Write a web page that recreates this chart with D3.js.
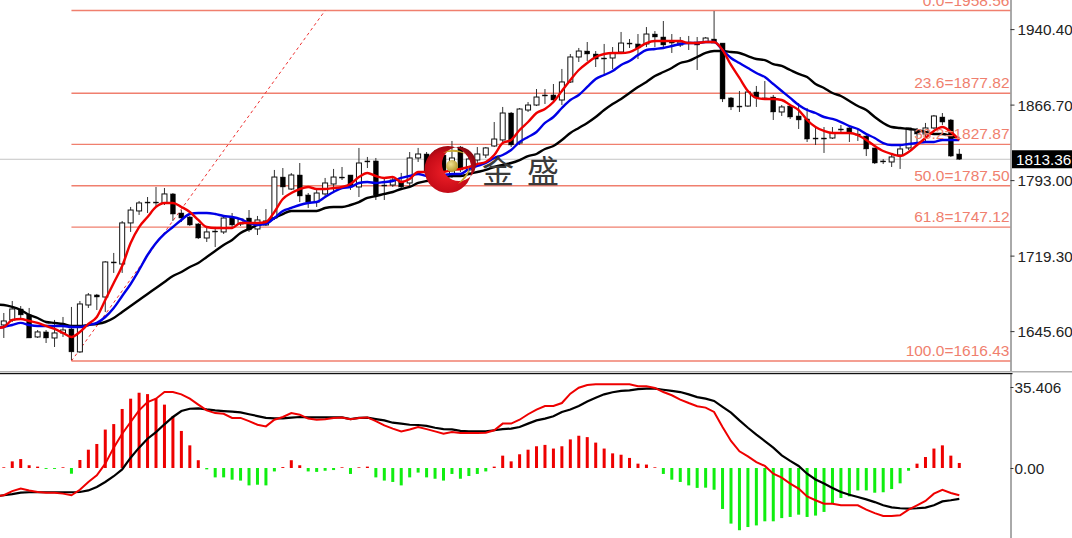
<!DOCTYPE html>
<html><head><meta charset="utf-8">
<style>html,body{margin:0;padding:0;background:#fff;overflow:hidden}svg{display:block}text{font-family:"Liberation Sans",sans-serif}</style>
<script src="https://cdn.jsdelivr.net/npm/d3@7"></script></head><body>
<svg id="c" width="1072" height="538"></svg>
<script>
const open=[1651.6,1656.5,1667.2,1661.4,1639.9,1644.8,1638.9,1643.8,1647.7,1625.3,
1671.1,1680.9,1678.9,1713.1,1711.1,1751.2,1762.9,1771.6,1771.6,1770.7,
1779.5,1760.9,1757,1750.2,1736.5,1743.3,1742.4,1757,1750.2,1756,
1745.3,1749.2,1756,1796,1784.3,1798,1778.5,1771.6,1779.5,1789.2,
1796,1798,1786.3,1811.7,1811.7,1788.2,1788.2,1791.2,1790.2,1814.6,
1818.5,1795.1,1817.5,1798,1825.3,1802.9,1812.6,1817.5,1826.3,1832.2,
1858.5,1829.2,1861.4,1866.3,1876.1,1876.1,1871.2,1888.8,1913.2,1919,
1916.1,1912.2,1912.2,1918,1926.8,1925.9,1925.9,1935.6,1932.7,1927.8,
1924.9,1927.8,1927.8,1927.8,1930.7,1926.8,1873.2,1865.3,1865.3,1879,
1873.2,1874.1,1859.5,1865.3,1855.6,1852.7,1834.1,1834.1,1834.1,1842.9,
1843.9,1838,1836,1824.4,1811.7,1810.7,1817.5,1824.4,1841,1838,
1843.9,1854.6,1851.7,1818.5];
const close=[1655.5,1667.2,1661.4,1638.9,1644.8,1638.9,1643.8,1646.7,1625.3,1672.1,
1680.9,1678.9,1713.1,1712.1,1751.2,1763.8,1770.7,1770.7,1770.7,1779.5,
1759.9,1756,1749.2,1736.5,1742.4,1742.4,1756,1749.2,1755,1744.3,
1754.1,1753.1,1796,1786.3,1798,1777.5,1771.6,1780.4,1790.2,1796,
1795.1,1786.3,1809.7,1810.7,1778.5,1787.3,1793.1,1786.3,1814.6,1818.5,
1800,1817.5,1800.9,1814.6,1802.9,1813.6,1818.5,1824.4,1833.1,1858.5,
1827.3,1862.4,1866.3,1874.1,1875.1,1871.2,1888.8,1913.2,1919,1916.1,
1911.2,1911.2,1917.1,1926.8,1925.9,1922,1935.6,1932.7,1924.9,1926.8,
1927.8,1926.8,1924.9,1931.7,1926.8,1872.2,1864.4,1864.4,1879,1873.2,
1872.2,1859.5,1864.4,1854.6,1851.7,1833.1,1833.1,1833.1,1839,1841.9,
1839,1837,1823.4,1809.7,1810.7,1815.6,1823.4,1843.9,1838,1843.9,
1855.6,1849.7,1816.5,1813.4];
const high=[1663.3,1675,1670.1,1668.2,1646.7,1646.7,1656.5,1659.4,1669.2,1675,
1682.8,1681.9,1714,1721.9,1753.1,1766.8,1772.6,1776.5,1786.3,1785.3,
1780.4,1763.8,1758,1751.2,1746.3,1747.3,1758,1760.9,1756,1763.8,
1758,1764.8,1802.9,1804.8,1799.9,1809.7,1780.4,1783.4,1795.1,1803.9,
1805.8,1798,1824.4,1815.6,1814.6,1795.1,1795.1,1800,1820.4,1824.4,
1820.4,1822.4,1820.4,1831.2,1826.3,1817.5,1825.3,1825.3,1849.7,1864.4,
1859.5,1863.4,1869.2,1881.9,1881.9,1886.8,1901.5,1916.1,1922,1927.8,
1919,1925.9,1922.9,1937.6,1930.7,1935.6,1942.4,1938.5,1948.3,1935.6,
1932.7,1933.7,1932.7,1932.7,1958,1926.8,1874.1,1880,1880,1884.9,
1889.7,1876.1,1866.3,1866.3,1868.3,1863.4,1843.9,1844.8,1844.8,1846.8,
1844.8,1843.9,1837,1824.4,1813.6,1817.5,1827.3,1843.9,1843.9,1848.8,
1856.6,1858.5,1852.7,1823.4];
const low=[1638.9,1654.5,1656.5,1638.9,1638.9,1634,1630.1,1639.9,1617.4,1624.3,
1668.2,1666.2,1664.3,1702.4,1702.4,1742.4,1759,1760.9,1766.8,1768.7,
1753.1,1752.1,1748.2,1735.5,1732.6,1727.7,1740.4,1747.3,1748.2,1742.4,
1739.4,1748.2,1754.1,1778.5,1783.4,1771.6,1765.8,1766.8,1777.5,1781.4,
1793.1,1783.4,1776.5,1804.8,1773.6,1773.6,1786.3,1785.3,1786.3,1810.7,
1798,1791.2,1797,1795.1,1800.9,1800,1807.8,1814.6,1825.3,1829.2,
1825.3,1827.3,1859.5,1865.3,1867.3,1869.2,1866.3,1887.8,1908.3,1909.3,
1903.4,1896.6,1901.5,1917.1,1922,1911.2,1922.9,1922.9,1922.9,1917.1,
1922.9,1920,1900.5,1926.8,1926.8,1869.2,1861.4,1859.5,1864.4,1864.4,
1871.2,1851.7,1855.6,1852.7,1842.9,1830.2,1827.3,1819.5,1833.1,1839,
1830.2,1831.2,1816.5,1808.7,1808.7,1805.8,1803.9,1822.4,1830.2,1829.2,
1842.9,1846.8,1815.6,1812.6];
const maSlow=[1671.1,1669.2,1666.2,1661.4,1658.4,1654.5,1653.6,1652.6,1650.6,1650.6,
1651.6,1652.6,1654.5,1658.4,1664.3,1670.1,1676,1681.9,1687.7,1693.6,
1699.4,1703.3,1708.2,1712.1,1718,1723.8,1729.7,1734.6,1741.4,1745.3,
1749.2,1751.2,1756,1759.9,1762.9,1762.9,1762.9,1762.9,1765.8,1766.8,
1766.8,1768.7,1771.6,1775.6,1777.5,1779.5,1781.4,1784.3,1786.3,1790.2,
1792.1,1793.1,1795.1,1797,1797,1799,1800.9,1802.9,1805.8,1807.8,
1809.7,1812.6,1816.5,1818.5,1823.4,1826.3,1832.2,1839,1843.9,1848.8,
1854.6,1861.4,1867.3,1872.2,1878,1883.9,1888.8,1894.6,1898.5,1902.4,
1907.3,1909.3,1913.2,1917.1,1919,1919,1918,1917.1,1914.1,1911.2,
1910.2,1906.3,1904.4,1900.5,1896.6,1893.6,1886.8,1882.9,1878,1875.1,
1870.2,1865.3,1861.4,1854.6,1848.8,1844.8,1843.9,1842.9,1841.9,1840,
1838,1838,1836,1834.1];
const maFast=[1649.6,1656.5,1657.5,1655.5,1653.6,1650.6,1647.7,1643.8,1639.9,1644.8,
1652.6,1659.4,1676,1692.6,1709.2,1731.6,1747.2,1757,1766.8,1770.7,
1770.7,1766.8,1761.9,1754.1,1747.2,1746.3,1746.3,1746.3,1751.2,1751.2,
1751.2,1752.1,1761.9,1774.6,1780.4,1784.3,1786.3,1784.3,1784.3,1785.3,
1786.3,1789.2,1796,1800,1797,1795.1,1796,1791.2,1794.1,1800.9,
1800.9,1800.9,1800.9,1802.9,1803.9,1805.8,1808.7,1810.7,1817.5,1829.2,
1832.2,1841.9,1849.7,1858.5,1862.4,1869.2,1880,1890.7,1900.5,1907.3,
1913.2,1916.1,1917.1,1917.1,1918,1922,1926.8,1928.8,1928.8,1928.8,
1928.8,1926.8,1926.8,1927.8,1927.8,1920,1905.4,1892.7,1880,1873.2,
1872.2,1872.2,1871.2,1866.3,1861.4,1851.7,1844.8,1841,1839,1839,
1839,1837,1832.2,1826.3,1821.4,1818.5,1816.5,1820.4,1827.3,1834.1,
1841,1844.8,1840,1832.2];
const maMid=[1649.6,1651.6,1653.6,1651.6,1650.6,1650.6,1650.6,1650.6,1649.6,1649.6,
1651.6,1653.6,1659.4,1668.2,1679.9,1691.6,1705.3,1719.9,1731.6,1740.4,
1747.2,1754.1,1759.9,1760.9,1760.9,1759.9,1758,1757,1755,1751.2,
1749.2,1750.2,1756,1762.9,1765.8,1768.7,1770.7,1771.6,1776.5,1781.4,
1785.3,1786.3,1790.2,1791.2,1790.2,1791.2,1792.1,1795.1,1797,1799,
1797,1798,1798,1799,1799,1803.9,1806.8,1809.7,1814.6,1817.5,
1822.4,1830.2,1835.1,1840,1848.8,1854.6,1863.4,1871.2,1876.1,1883.9,
1891.7,1895.6,1899.5,1905.4,1909.3,1915.1,1920,1921,1922,1923.9,
1925.9,1926.8,1926.8,1927.8,1927.8,1920,1912.2,1907.3,1902.4,1897.6,
1893.6,1886.8,1880,1873.2,1866.3,1861.4,1858.5,1854.6,1852.7,1849.7,
1845.8,1842.9,1838,1834.1,1829.2,1827.3,1827.3,1828.3,1829.2,1830.2,
1830.2,1832.2,1832.2,1832.2];
const maBefore=[1671.5,1648.5,1649];
const macdHist=[0.3,2.9,3.9,1.2,0.6,-0.4,-0.4,0.3,-2.5,3.5,
8,10.5,16.8,19.2,25.8,30.3,32.9,32.3,30.3,27.7,
22.6,16.2,9.9,3.4,-0.6,-4.1,-4.1,-5.1,-5.5,-7.6,
-7.3,-7.6,-1.5,0.4,3.4,1.2,-1.5,-1.7,-1.2,-0.9,
0.3,-2.6,0.3,0.6,-4.1,-5.5,-6.1,-7.6,-4.1,-2,
-4.1,-4.7,-5.5,-2.6,-4.7,-3.5,-2.6,-1.5,0.6,5.4,
2.9,6,8,9.5,10.1,8.5,9.5,12.5,14.1,13.5,
11.1,8.5,6.4,5.8,4.4,1.9,1.5,0.3,-2.6,-5.1,
-6.1,-7.6,-8.7,-8.6,-9.5,-17.9,-24.3,-27.2,-25.8,-25.1,
-23.3,-23.3,-21.9,-21.4,-20.4,-21.4,-20.8,-19.2,-15.7,-13.1,
-12.4,-9.8,-9.8,-10.8,-10.6,-9.2,-6.7,-1.2,1.9,4.8,
8.5,9.9,5.4,2.2];
const macdSignal=[-11.9,-11.4,-10.8,-10.6,-10.6,-10.6,-10.6,-10.6,-10.6,-10.5,
-9.8,-8.3,-6.1,-3.6,-0.6,4.5,8.9,12.8,15.7,19.1,
22.3,24.9,25.9,26.1,25.6,25.2,24.9,24.6,24.3,23.5,
22.7,21.9,21.7,21.7,22,22.3,22.1,22.1,22.1,22.1,
22.1,21.4,21.9,22,21.4,20.8,19.8,19.4,18.9,18.8,
18.4,17.6,17,16.9,16.2,16,16,16,16.5,17,
17.2,17.9,19.4,20.8,21.6,22.6,24.5,25.6,27.1,29.1,
30.7,32.2,33.1,33.7,33.9,34.5,34.7,34.7,34.2,33.7,
33.2,32.2,31,30.3,29.3,26.7,24.2,20.8,17.6,14.6,
11.8,8.9,5.5,3.1,0.9,-2.5,-5,-6.8,-8.7,-10.5,
-11.7,-12.7,-13.7,-14.9,-16.3,-17.2,-17.6,-17.8,-17.6,-17.3,
-16.3,-14.6,-14.1,-13.5];
const macdLine=[-11.9,-10.1,-9,-9.8,-10.5,-10.8,-10.8,-11.2,-11.9,-9.5,
-6.1,-3.2,1.9,8.9,15,20.1,25.2,28.8,30.3,33.2,
33.2,32.2,30.3,27.7,25.2,24,23.7,21.9,21.9,20.5,
18.9,18.2,21.1,22.3,24,23.3,21.6,21.1,21.3,21.9,
22.1,21.3,21.9,22.1,20.5,18.6,17.2,16,16.8,17.9,
17,16,15,15.7,15.3,15.3,15.3,15.4,16.5,19.4,
19.4,21.1,23.5,25.5,27.1,27.1,28.4,32.5,35.1,36.3,
36.6,36.6,36.6,36.6,36.6,35.7,35.7,35,33.2,31.8,
29.9,28.4,27,26.4,24.5,17.9,11.8,7.3,5.1,2.6,
0.9,-2.5,-4.2,-6.8,-9,-12.4,-14.1,-15.6,-15.6,-16.3,
-16.3,-16.3,-18.2,-19.7,-21,-21,-20.7,-18.2,-16.3,-14.4,
-11.2,-9.5,-10.9,-11.9];
const macdBefore=-12.4;
const fiboPrices=[1958.56,1877.82,1827.87,1787.50,1747.12,1616.43];
const fiboLabels=["0.0=1958.56","23.6=1877.82","38.2=1827.87","50.0=1787.50","61.8=1747.12","100.0=1616.43"];
const priceTicks=[1940.40,1866.70,1793.00,1719.30,1645.60];
const macdTicks=[35.406,0];
const macdTickLabels=["35.406","0.00"];
const lastPrice=1813.36;
const trendBars=[8,38];
const logoChars=["金","盛"];

const svg=d3.select("#c");
const n=open.length;
const x=d3.scaleLinear().domain([0,113]).range([3.8,959.3]);
const y=d3.scaleLinear().domain([1616.43,1958.56]).range([361,10.5]);
const ym=d3.scaleLinear().domain([0,35.406]).range([468,387]);
const AX=1010.5,RED="#ee0000",FIB="#f07f6e";

svg.append("defs").html(`<clipPath id="mainClip"><rect x="0" y="0" width="${AX}" height="371"/></clipPath>
<clipPath id="subClip"><rect x="0" y="375" width="${AX}" height="163"/></clipPath>
<radialGradient id="cres" cx="45%" cy="55%" r="60%"><stop offset="0" stop-color="#f02028"/><stop offset="0.7" stop-color="#c80c18"/><stop offset="1" stop-color="#8a0810"/></radialGradient>
<radialGradient id="gold" cx="40%" cy="35%" r="70%"><stop offset="0" stop-color="#f0e090"/><stop offset="1" stop-color="#b09020"/></radialGradient>`);

const main=svg.append("g").attr("clip-path","url(#mainClip)");
main.append("line").attr("x1",0).attr("x2",AX).attr("y1",y(lastPrice)).attr("y2",y(lastPrice)).attr("stroke","#c4c4c4").attr("stroke-width",1);
main.selectAll("line.fib").data(fiboPrices).join("line").attr("class","fib")
 .attr("x1",x(8)).attr("x2",AX).attr("y1",d=>y(d)).attr("y2",d=>y(d)).attr("stroke",FIB).attr("stroke-width",1.4);
main.append("line").attr("x1",x(trendBars[0])).attr("y1",y(fiboPrices[5])).attr("x2",x(trendBars[1])).attr("y2",y(fiboPrices[0]))
 .attr("stroke","#ee3030").attr("stroke-width",1).attr("stroke-dasharray","3 3");

const idx=d3.range(n);
main.selectAll("line.wick").data(idx).join("line").attr("class","wick")
 .attr("x1",i=>x(i)).attr("x2",i=>x(i)).attr("y1",i=>y(high[i])).attr("y2",i=>y(low[i])).attr("stroke","#333").attr("stroke-width",1);
main.selectAll("rect.body").data(idx).join("rect").attr("class","body")
 .attr("x",i=>x(i)-2.5).attr("width",5)
 .attr("y",i=>y(Math.max(open[i],close[i])))
 .attr("height",i=>Math.max(1,Math.abs(y(open[i])-y(close[i]))))
 .attr("fill",i=>close[i]>=open[i]?"#fff":"#000")
 .attr("stroke","#111").attr("stroke-width",i=>close[i]>=open[i]?1:0.4);

// each line starts one bar before the first candle, so it runs from the pane's left edge
const line=s=>d3.line().x((d,i)=>x(i-1)).y(d=>s(d)).curve(d3.curveMonotoneX);
[[maSlow,"#000",maBefore[0]],[maMid,"#0000e6",maBefore[2]],[maFast,RED,maBefore[1]]].forEach(([a,c,b])=>{
 main.append("path").attr("d",line(y)([b,...a])).attr("fill","none").attr("stroke",c).attr("stroke-width",2.4);
});

main.selectAll("text.fibl").data(fiboLabels).join("text").attr("class","fibl")
 .attr("x",AX-1).attr("y",(d,i)=>y(fiboPrices[i])-5).attr("text-anchor","end")
 .attr("font-size",15.5).attr("fill",FIB).text(d=>d);

// logo
const logo=svg.append("g");
const arcOuter=d3.arc()({innerRadius:0,outerRadius:23.5,startAngle:0,endAngle:2*Math.PI});
logo.append("path").attr("transform","translate(448,169.5)")
 .attr("d",arcOuter+` M${459-448+17},${164-169.5} A17,17 0 1,0 ${459-448-17},${164-169.5} A17,17 0 1,0 ${459-448+17},${164-169.5} Z`)
 .attr("fill","url(#cres)").attr("fill-rule","evenodd");
logo.append("circle").attr("cx",452).attr("cy",166).attr("r",6).attr("fill","url(#gold)");
logo.append("path").attr("d","M443,153 Q454,146 466,154 Q454,150 443,153Z M463,178 Q470,170 468,165 Q472,176 458,184Z").attr("fill","#c8a830");
logo.selectAll("text").data(logoChars).join("text").attr("x",(d,i)=>482+45*i).attr("y",183)
 .attr("font-size",32).attr("fill","#3a3a3a").style("font-family",'"Noto Sans CJK SC"').text(d=>d);

// right axis main
const axisMain=d3.axisRight(y).tickValues(priceTicks).tickSize(4).tickPadding(3).tickFormat(d3.format(".2f"));
const gA=svg.append("g").attr("transform",`translate(${AX},0)`).call(axisMain);
gA.select(".domain").attr("d","M0.5,0V371").attr("stroke","#555");
gA.selectAll("text").attr("font-size",15.3).attr("fill","#222").attr("transform","translate(0,0.5)").style("font-family",'"Liberation Sans"');
gA.selectAll("line").attr("stroke","#333");
svg.append("rect").attr("x",1012).attr("y",y(lastPrice)-9).attr("width",60).attr("height",18).attr("fill","#000");
svg.append("text").attr("x",1016).attr("y",y(lastPrice)+5.5).attr("font-size",15.3).attr("fill","#fff").text(d3.format(".2f")(lastPrice));

// separator
svg.append("rect").attr("x",0).attr("y",371).attr("width",1072).attr("height",1.5).attr("fill","#b0b0b0");
svg.append("rect").attr("x",0).attr("y",373).attr("width",AX+2).attr("height",1.2).attr("fill","#111");

// MACD
const sub=svg.append("g").attr("clip-path","url(#subClip)");
sub.selectAll("rect").data(idx).join("rect")
 .attr("x",i=>x(i)-1.5).attr("width",3)
 .attr("y",i=>macdHist[i]>=0?ym(macdHist[i]):ym(0))
 .attr("height",i=>Math.abs(ym(macdHist[i])-ym(0)))
 .attr("fill",i=>macdHist[i]>=0?RED:"#10ee10");
const lm=d3.line().x((d,i)=>x(i-1)).y(d=>ym(d));
sub.append("path").attr("d",lm([macdBefore,...macdSignal])).attr("fill","none").attr("stroke","#000").attr("stroke-width",2.2);
sub.append("path").attr("d",lm([macdBefore,...macdLine])).attr("fill","none").attr("stroke",RED).attr("stroke-width",2);

const axisSub=d3.axisRight(ym).tickValues(macdTicks).tickSize(3).tickPadding(1).tickFormat((d,i)=>macdTickLabels[i]);
const gB=svg.append("g").attr("transform",`translate(${AX},0)`).call(axisSub);
gB.select(".domain").attr("d","M0.5,374V538").attr("stroke","#555");
gB.selectAll("text").attr("font-size",15.3).attr("fill","#222").attr("transform","translate(0,1)").style("font-family",'"Liberation Sans"');
gB.selectAll("line").attr("stroke","#333");
</script></body></html>
